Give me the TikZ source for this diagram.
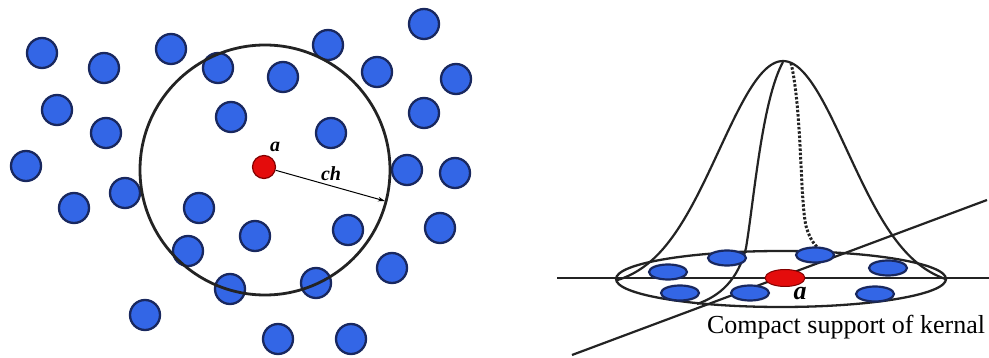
\documentclass[tikz,border=0pt]{standalone}
\usepackage{fontspec}
\setmainfont{Liberation Serif}
\usetikzlibrary{arrows.meta,shapes.geometric}
\definecolor{dotblue}{RGB}{51,102,230}
\definecolor{dotedge}{RGB}{25,40,95}
\definecolor{dotred}{RGB}{228,12,12}
\definecolor{rededge}{RGB}{130,0,0}
\definecolor{ink}{RGB}{35,35,35}
\begin{document}
\begin{tikzpicture}[x=1pt,y=-1pt,
  bdot/.style={circle, fill=dotblue, draw=dotedge, line width=2.3pt, minimum size=30pt, inner sep=0pt},
  rdot/.style={circle, fill=dotred, draw=rededge, line width=1.2pt, minimum size=23pt, inner sep=0pt},
  bflat/.style={ellipse, fill=dotblue, draw=dotedge, line width=2.2pt, minimum width=38pt, minimum height=15pt, inner sep=0pt},
  rflat/.style={ellipse, fill=dotred, draw=rededge, line width=1pt, minimum width=40pt, minimum height=17pt, inner sep=0pt},
  lbl/.style={font=\fontsize{20}{24}\selectfont\bfseries\itshape, text=black, inner sep=0pt},
  rimline/.style={draw=ink, line width=2.8pt},
  bellline/.style={draw=ink, line width=2.2pt}]
\useasboundingbox (0,0) rectangle (989,358);
% ---------- left panel ----------
\foreach \x/\y [count=\i] in {42/53,104/68,171/49,218/68,283/77,328/45,424/24,377/72,456/79,
  57/110,106/133,231/117,331/133,424/113,26/166,125/193,74/208,199/208,407/170,455/173,
  255/236,348/230,440/228,188/251,230/289,316/283,392/268,145/315,278/339,351/339}
  \node[bdot] (b\i) at (\x,\y) {};
\node[rdot] (ra) at (264,167) {};
\coordinate (ctr) at (265,170);
\draw[rimline] (ctr) circle[radius=125];
\coordinate (chend) at (385,201);
\draw[black, line width=1pt, -{Stealth[length=7pt,width=4.5pt]}] (ra) -- (chend);
\node[lbl] (la) at (275,147) {a};
\node[lbl] (lch) at (331,174) {ch};
% ---------- right panel ----------
\coordinate (hl) at (557,278);
\coordinate (hr) at (989,278);
\draw[ink, line width=2.3pt] (hl) -- (hr);
\coordinate (dl) at (572,355);
\coordinate (dr) at (987,200);
\draw[ink, line width=2.2pt] (dl) -- (dr);
\coordinate (ec) at (781,279);
\draw[ink, line width=2.3pt] (ec) ellipse[x radius=165, y radius=28];
\draw[bellline] plot[domain=616:947, samples=150, smooth]
  (\x,{279-227*(exp(-0.5*(((\x-783)/64)^2))-0.04)});
\coordinate (pk) at (783,62);
\coordinate (fb) at (697,304);
\draw[bellline] (pk) .. controls (762,100) and (754,200) .. (746,248)
  .. controls (738,280) and (720,296) .. (fb);
\coordinate (pk2) at (791,63);
\coordinate (ft) at (823,251);
\draw[ink, line width=3pt, dash pattern=on 2.5pt off 1.8pt] (pk2) .. controls (802,110) and (800,200) .. (806,226)
  .. controls (810,240) and (816,248) .. (ft);
\foreach \x/\y [count=\i] in {727/258,815/255,668/272,888/268,680/293,750/293,875/294}
  \node[bflat] (f\i) at (\x,\y) {};
\node[rflat] (fa) at (785,278) {};
\node[font=\fontsize{26}{30}\selectfont\bfseries\itshape, inner sep=0pt] (ra2) at (800,294) {a};
\node[font=\fontsize{26}{30}\selectfont, text=black, inner sep=0pt] (cap) at (846,327) {Compact support of kernal};
\end{tikzpicture}
\end{document}
